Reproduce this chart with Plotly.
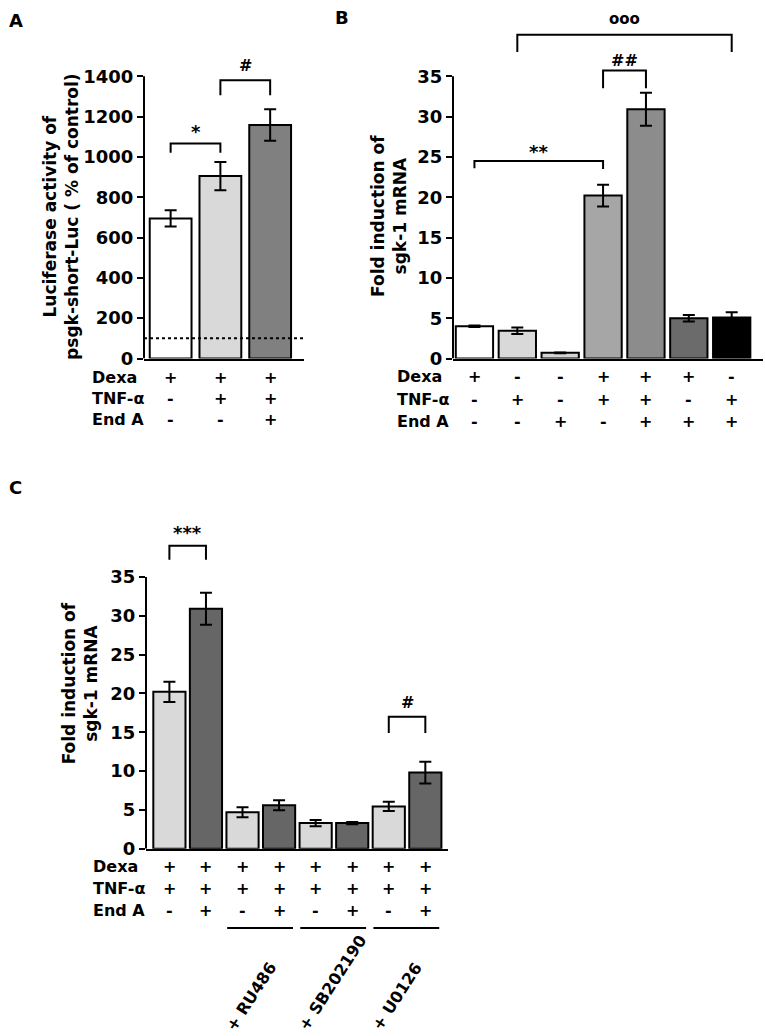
import plotly.graph_objects as go

W, H = 765, 1036
FONT = "DejaVu Sans"

# ---------------- data ----------------
# Panel A
a_cats = ["Dexa", "Dexa+TNF-α", "Dexa+TNF-α+End A"]
a_vals = [695, 905, 1158]
a_errs = [40, 70, 78]
a_colors = ["#ffffff", "#d9d9d9", "#808080"]
a_control = 100
a_ticks = [0, 200, 400, 600, 800, 1000, 1200, 1400]
a_dexa = ["+", "+", "+"]
a_tnf = ["-", "+", "+"]
a_enda = ["-", "-", "+"]
# (label, from, to, top, leg_from, leg_to, text_y)
a_sig = [("*", 0, 1, 1066, 1020, 1020, 1143),
         ("#", 1, 2, 1380, 1306, 1306, 1455)]

# Panel B
b_cats = ["Dexa", "TNF-α", "End A", "Dexa+TNF-α", "Dexa+TNF-α+End A",
          "Dexa+End A", "TNF-α+End A"]
b_vals = [4.0, 3.45, 0.7, 20.2, 30.9, 5.0, 5.1]
b_errs = [0.1, 0.4, 0.06, 1.35, 2.05, 0.4, 0.65]
b_colors = ["#ffffff", "#d9d9d9", "#d4d4d4", "#a6a6a6", "#8c8c8c",
            "#6b6b6b", "#000000"]
b_ticks = [0, 5, 10, 15, 20, 25, 30, 35]
b_dexa = ["+", "-", "-", "+", "+", "+", "-"]
b_tnf = ["-", "+", "-", "+", "+", "-", "+"]
b_enda = ["-", "-", "+", "-", "+", "+", "+"]
b_sig = [("**", 0, 3, 24.5, 23.6, 23.5, 26.1),
         ("##", 3, 4, 35.7, 33.5, 33.5, 37.0),
         ("ooo", 1, 6, 40.15, 38.0, 38.0, 42.1)]

# Panel C
c_cats = ["Dexa+TNF-α", "Dexa+TNF-α+End A", "RU486", "RU486+End A",
          "SB202190", "SB202190+End A", "U0126", "U0126+End A"]
c_vals = [20.2, 30.9, 4.7, 5.6, 3.3, 3.3, 5.45, 9.8]
c_errs = [1.3, 2.05, 0.65, 0.65, 0.4, 0.15, 0.6, 1.4]
c_colors = ["#d9d9d9", "#666666"] * 4
c_ticks = [0, 5, 10, 15, 20, 25, 30, 35]
c_dexa = ["+"] * 8
c_tnf = ["+"] * 8
c_enda = ["-", "+", "-", "+", "-", "+", "-", "+"]
c_sig = [("***", 0, 1, 39.0, 37.2, 37.2, 41.1),
         ("#", 6, 7, 17.0, 14.9, 14.9, 18.8)]
c_groups = [("+ RU486", 2, 3), ("+ SB202190", 4, 5), ("+ U0126", 6, 7)]


# ---------------- helpers ----------------
def px(p):
    return p / W


def py(p):
    return 1 - p / H


def bold(size):
    return dict(family=FONT, size=size, color="black", weight="bold")


fig = go.Figure()
annotations = []
shapes = []


def add_panel(n, cats, vals, errs, colors, width):
    xa = "x" if n == 1 else f"x{n}"
    ya = "y" if n == 1 else f"y{n}"
    fig.add_trace(go.Bar(
        x=cats, y=vals, width=width, xaxis=xa, yaxis=ya,
        marker=dict(color=colors, line=dict(color="black", width=2)),
        error_y=dict(type="data", array=errs, color="black",
                     thickness=2, width=6),
        hoverinfo="x+y"))


def add_sig(n, cats, sig, size, yshift_map):
    xa = "x" if n == 1 else f"x{n}"
    ya = "y" if n == 1 else f"y{n}"
    for label, i, j, top, la, lb, ty in sig:
        fig.add_trace(go.Scatter(
            x=[cats[i], cats[i], cats[j], cats[j]],
            y=[la, top, top, lb], mode="lines",
            line=dict(color="black", width=2), xaxis=xa, yaxis=ya,
            hoverinfo="skip"))
        annotations.append(dict(
            x=(i + j) / 2, y=ty, xref=xa, yref=ya, text=label,
            showarrow=False, font=bold(size.get(label, 16)),
            xanchor="center", yanchor="middle",
            yshift=yshift_map.get(label, 0)))


def add_rows(n, cats, rows, ys, label_x):
    xa = "x" if n == 1 else f"x{n}"
    names = ["Dexa", "TNF-α", "End A"]
    for name, row, yy in zip(names, rows, ys):
        annotations.append(dict(x=px(label_x), y=py(yy), xref="paper",
                                yref="paper", text=name, showarrow=False,
                                font=bold(16), xanchor="left",
                                yanchor="middle"))
        for c, s in zip(cats, row):
            annotations.append(dict(x=c, y=py(yy), xref=xa, yref="paper",
                                    text=s, showarrow=False, font=bold(16),
                                    xanchor="center", yanchor="middle"))


def yaxis_line(n, top):
    xa = "x" if n == 1 else f"x{n}"
    ya = "y" if n == 1 else f"y{n}"
    shapes.append(dict(type="line", xref=f"{xa} domain", yref=ya,
                       x0=0, x1=0, y0=0, y1=top,
                       line=dict(color="black", width=2)))


# ---------------- panels ----------------
add_panel(1, a_cats, a_vals, a_errs, a_colors, 0.84)
add_panel(2, b_cats, b_vals, b_errs, b_colors, 0.87)
add_panel(3, c_cats, c_vals, c_errs, c_colors, 0.88)

sig_sizes = {"*": 18, "**": 18, "***": 18, "#": 16, "##": 16, "ooo": 15}
sig_shift = {"*": -3, "**": -3, "***": -3}
add_sig(1, a_cats, a_sig, sig_sizes, sig_shift)
add_sig(2, b_cats, b_sig, sig_sizes, sig_shift)
add_sig(3, c_cats, c_sig, sig_sizes, sig_shift)

add_rows(1, a_cats, [a_dexa, a_tnf, a_enda], [381, 402, 424], 90)
add_rows(2, b_cats, [b_dexa, b_tnf, b_enda], [380, 403, 426], 395)
add_rows(3, c_cats, [c_dexa, c_tnf, c_enda], [875, 897, 919], 91)

yaxis_line(1, a_ticks[-1])
yaxis_line(2, b_ticks[-1])
yaxis_line(3, c_ticks[-1])

# control level (dotted) in A
shapes.append(dict(type="line", xref="x domain", yref="y", x0=0, x1=1,
                   y0=a_control, y1=a_control,
                   line=dict(color="black", width=2, dash="dot")))

# inhibitor group underlines and labels in C
for label, i, j in c_groups:
    shapes.append(dict(type="line", xref="x3", yref="paper",
                       x0=i - 0.42, x1=j + 0.38, y0=py(937), y1=py(937),
                       line=dict(color="black", width=2)))
    annotations.append(dict(x=i - 0.64, y=py(1047), xref="x3",
                            yref="paper", text=label, showarrow=False,
                            textangle=-57, font=bold(16),
                            xanchor="left", yanchor="bottom"))

# axis titles
annotations.append(dict(x=px(61), y=py(219), xref="paper", yref="paper",
                        text="Luciferase activity of<br>psgk-short-Luc ( % of control)",
                        textangle=-90, showarrow=False, font=bold(17),
                        xanchor="center", yanchor="middle"))
annotations.append(dict(x=px(389), y=py(218), xref="paper", yref="paper",
                        text="Fold induction of<br>sgk-1 mRNA",
                        textangle=-90, showarrow=False, font=bold(17),
                        xanchor="center", yanchor="middle"))
annotations.append(dict(x=px(80), y=py(690), xref="paper", yref="paper",
                        text="Fold induction of<br>sgk-1 mRNA",
                        textangle=-90, showarrow=False, font=bold(17),
                        xanchor="center", yanchor="middle"))

# panel letters
for letter, lx, ly in [("A", 16, 21), ("B", 342, 18), ("C", 16, 492)]:
    annotations.append(dict(x=px(lx), y=py(ly), xref="paper", yref="paper",
                            text=letter, showarrow=False, font=bold(18),
                            xanchor="center", yanchor="middle"))

# ---------------- axes ----------------
A0, B0, C0 = 362, 362, 857          # pixel rows of the zero lines
ka = 285 / 1400      # px per unit A
kb = 285 / 35        # px per unit B
kc = 274.5 / 35      # px per unit C
A_TOP, B_TOP, C_TOP = 1550, 44, 43


def xax(domain, rng):
    return dict(domain=domain, range=rng, type="category", showline=True,
                linewidth=2, linecolor="black", ticks="", showticklabels=False,
                showgrid=False, zeroline=False, fixedrange=True)


def yax(domain, rng, ticks, anchor):
    return dict(domain=domain, range=rng, tickvals=ticks, ticks="outside",
                ticklen=6, tickwidth=2, tickcolor="black", showline=False,
                showgrid=False, zeroline=False, tickfont=bold(18),
                anchor=anchor, fixedrange=True)


fig.update_layout(
    width=W, height=H, margin=dict(l=0, r=0, t=0, b=0),
    paper_bgcolor="white", plot_bgcolor="white", showlegend=False,
    xaxis=xax([px(144), px(304)], [-0.535, 2.68]) | dict(anchor="y"),
    yaxis=yax([py(A0), py(A0 - A_TOP * ka)], [0, A_TOP], a_ticks, "x"),
    xaxis2=xax([px(453), px(763)], [-0.5, 6.73]) | dict(anchor="y2"),
    yaxis2=yax([py(B0), py(B0 - B_TOP * kb)], [0, B_TOP], b_ticks, "x2"),
    xaxis3=xax([px(146), px(448)], [-0.64, 7.62]) | dict(anchor="y3"),
    yaxis3=yax([py(C0), py(C0 - C_TOP * kc)], [0, C_TOP], c_ticks, "x3"),
    annotations=annotations, shapes=shapes,
    bargap=0.1,
)

fig.write_html("out.html", config={"displayModeBar": False},
               post_script="document.body.style.margin='0px';"
                           "document.body.style.overflow='hidden';")
